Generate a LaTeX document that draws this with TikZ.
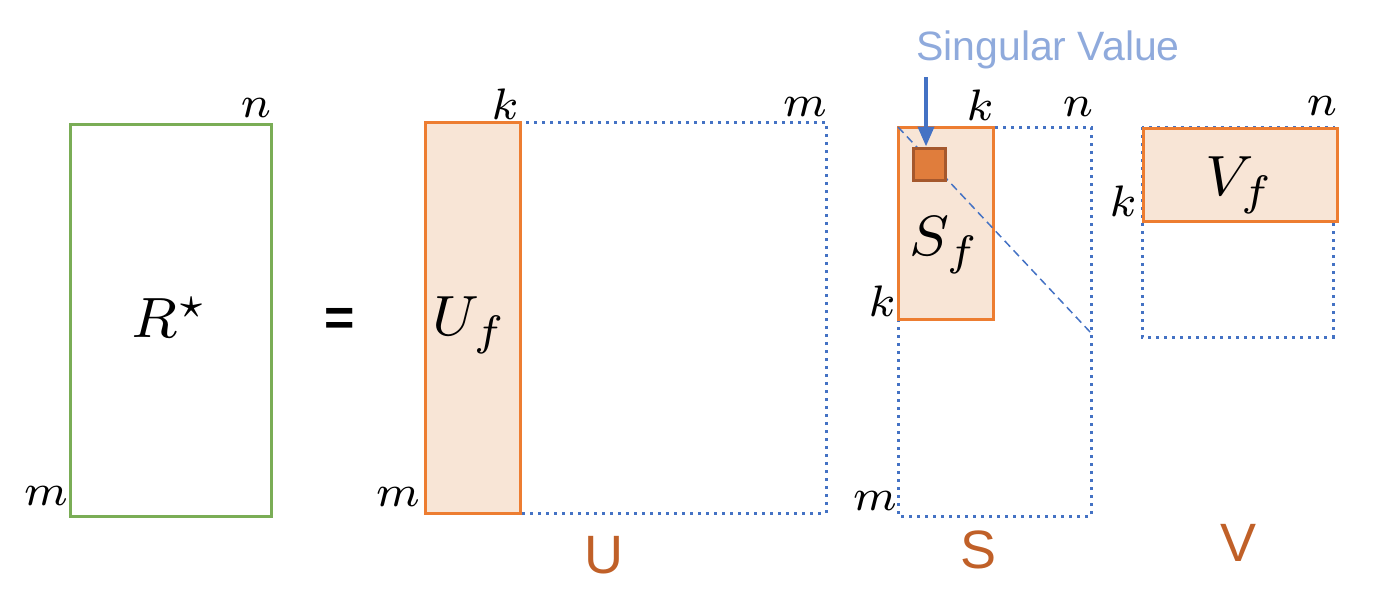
\documentclass[tikz,border=0pt]{standalone}
\usepackage{amsmath}
\usepackage{fontspec}
\newfontfamily\sanslabel{Liberation Sans}
\usetikzlibrary{arrows.meta}

\definecolor{boxorange}{RGB}{237,125,49}
\definecolor{boxfill}{RGB}{248,229,214}
\definecolor{dotblue}{RGB}{68,114,196}
\definecolor{framegreen}{RGB}{122,173,86}
\definecolor{valorange}{RGB}{224,125,60}
\definecolor{valborder}{RGB}{165,88,45}
\definecolor{captionblue}{RGB}{143,170,220}
\definecolor{namebrown}{RGB}{192,96,40}

\tikzset{
	dim/.style={font=\fontsize{7}{8}\selectfont, inner sep=0pt, scale=3.15, transform shape},
	bigmath/.style={font=\fontsize{8}{9}\selectfont, inner sep=0pt, scale=3.55, transform shape},
	matname/.style={font=\sanslabel\fontsize{27}{32}\selectfont, text=namebrown, inner sep=0pt},
	fullbox/.style={draw=dotblue, line width=1.5pt, dash pattern=on 1.5pt off 2.5pt},
	factorbox/.style={draw=boxorange, fill=boxfill, line width=1.5pt},
}

\begin{document}
\begin{tikzpicture}[x=0.5pt,y=-0.5pt]
	\useasboundingbox (0,0) rectangle (1390,590);

	% R
	\draw[draw=framegreen, line width=1.5pt] (70,124) rectangle (271,516);
	\node[bigmath] (rstar) at (170,318) {$R^\star$};
	\node[dim] (rn) at (256,108) {$n$};
	\node[dim] (rm) at (46,496) {$m$};

	\node[font=\sanslabel\bfseries\fontsize{26}{30}\selectfont, inner sep=0pt] (eq) at (340,322) {=};

	% U
	\draw[fullbox] (425,122) rectangle (826,513);
	\draw[factorbox] (425,122) rectangle (520,513);
	\node[bigmath] (uf) at (470,325) {$U_f$};
	\node[dim] (uk) at (505,104) {$k$};
	\node[dim] (um) at (805,107) {$m$};
	\node[dim] (uml) at (398,497) {$m$};
	\node[matname] (uname) at (604,555) {U};

	% S
	\draw[fullbox] (898,127) rectangle (1091,516);
	\draw[factorbox] (898,127) rectangle (993,319);
	\draw[dotblue, line width=0.75pt, dash pattern=on 4pt off 2.5pt] (898,127) -- (1091,333);
	\node[draw=valborder, fill=valorange, line width=1.5pt, minimum size=16pt, inner sep=0pt] (sv) at (929.5,164) {};
	\node[bigmath] (sf) at (945,245) {$S_f$};
	\node[dim] (sk) at (980,105) {$k$};
	\node[dim] (sn) at (1078,107) {$n$};
	\node[dim] (skl) at (882,301) {$k$};
	\node[dim] (sm) at (875,501) {$m$};
	\node[matname] (sname) at (978,550) {S};

	% singular value
	\node[font=\sanslabel\fontsize{20.5}{24}\selectfont, text=captionblue, inner sep=0pt] (caption) at (1048,50) {Singular Value};
	\coordinate (svtop) at (926,77);
	\draw[-{Triangle[length=10pt,width=8pt]}, dotblue, line width=2pt] (svtop) -- (svtop |- sv.north);

	% V
	\draw[fullbox] (1142,127) rectangle (1333,337);
	\draw[factorbox] (1143,128) rectangle (1337,221);
	\node[bigmath] (vf) at (1240,185) {$V_f$};
	\node[dim] (vn) at (1322,106) {$n$};
	\node[dim] (vk) at (1123,201) {$k$};
	\node[matname] (vname) at (1238,543) {V};

\end{tikzpicture}
\end{document}
